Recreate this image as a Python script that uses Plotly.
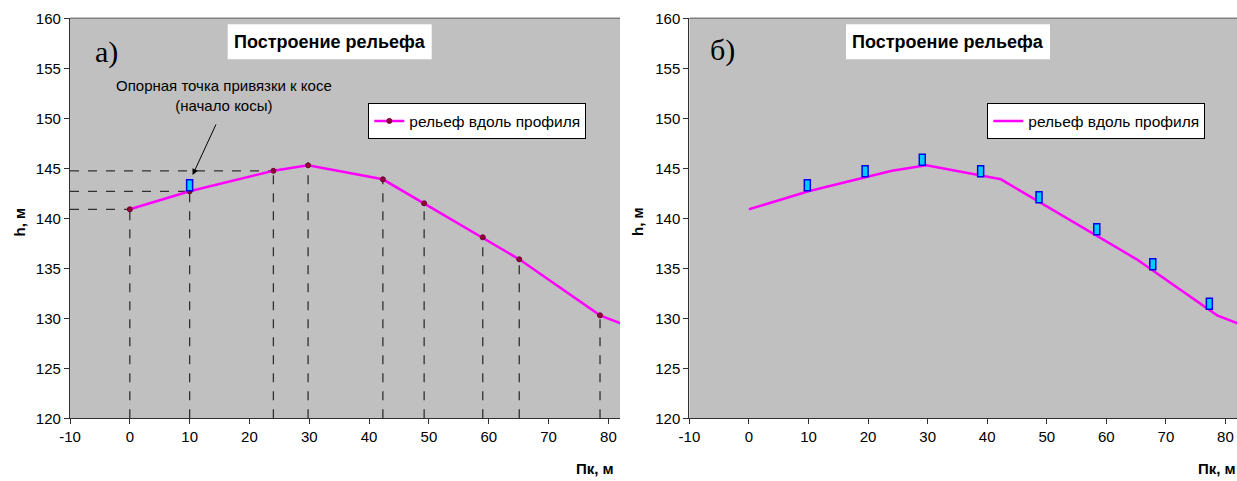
import plotly.graph_objects as go

# ---------------- data ----------------
pk = [0, 10, 24, 29.8, 42.3, 49.2, 59, 65.1, 78.6, 95]          # пикет, м
h = [140.9, 142.7, 144.75, 145.3, 143.9, 141.5, 138.1, 135.9, 130.3, 126.5]  # отметка, м

guide_v_idx = [0, 1, 2, 3, 4, 5, 6, 7, 8]   # vertical dashed guides (a)
guide_h_idx = [0, 1, 2]                      # horizontal dashed guides (a)

peg_a_pk = [10]
peg_a_h = [143.3]

peg_b_pk = [9.8, 19.5, 29.1, 38.9, 48.7, 58.4, 67.8, 77.3]
peg_b_h = [143.3, 144.7, 145.85, 144.7, 142.1, 138.9, 135.4, 131.45]

x_ticks = [-10, 0, 10, 20, 30, 40, 50, 60, 70, 80]
x_tick_labels = ["-10", "0", "10", "20", "30", "40", "50", "60", "70", "80"]
y_ticks = [120, 125, 130, 135, 140, 145, 150, 155, 160]

TITLE = "Построение рельефа"
SERIES = "рельеф вдоль профиля"
NOTE = "Опорная точка привязки к косе<br>(начало косы)"

# ---------------- styling ----------------
W, H = 1237, 481
FONT = "Liberation Sans, Arial, sans-serif"
BG = "#c0c0c0"
MAG = "#ff00ff"
AX = "#303030"

def px_x(p):
    return p / W

def px_y(p):
    return (H - p) / H

X_MIN, X_MAX = -10, 81.94
Y_MIN, Y_MAX = 120, 160

fig = go.Figure()

# dashed guides for panel a
vx, vy = [], []
for i in guide_v_idx:
    vx += [pk[i], pk[i], None]
    vy += [Y_MIN, h[i], None]
hx, hy = [], []
for i in guide_h_idx:
    hx += [X_MIN, pk[i], None]
    hy += [h[i], h[i], None]
fig.add_trace(go.Scatter(x=vx, y=vy, mode="lines", xaxis="x", yaxis="y",
                         line=dict(color="#303030", width=1.3, dash="dash"),
                         showlegend=False, hoverinfo="skip"))
fig.add_trace(go.Scatter(x=hx, y=hy, mode="lines", xaxis="x", yaxis="y",
                         line=dict(color="#303030", width=1.3, dash="dash"),
                         showlegend=False, hoverinfo="skip"))

# profile, panel a
fig.add_trace(go.Scatter(x=pk, y=h, mode="lines+markers", name=SERIES,
                         xaxis="x", yaxis="y", legend="legend",
                         line=dict(color=MAG, width=2.5),
                         marker=dict(size=5, color="#990033",
                                     line=dict(color="#660033", width=1)),
                         cliponaxis=True))
# profile, panel b
fig.add_trace(go.Scatter(x=pk, y=h, mode="lines", name=SERIES,
                         xaxis="x2", yaxis="y2", legend="legend2",
                         line=dict(color=MAG, width=2.5)))

shapes = []
# pegs as small pixel-sized rectangles anchored at data points
def peg(xr, yr, xv, yv):
    return dict(type="rect", xref=xr, yref=yr,
                xsizemode="pixel", xanchor=xv, x0=-3, x1=3,
                ysizemode="pixel", yanchor=yv, y0=-5.5, y1=5.5,
                fillcolor="#00ccff", line=dict(color="#0000ee", width=1.5),
                layer="above")

for xv, yv in zip(peg_a_pk, peg_a_h):
    shapes.append(peg("x", "y", xv, yv))
for xv, yv in zip(peg_b_pk, peg_b_h):
    shapes.append(peg("x2", "y2", xv, yv))

# top border of plot areas
for xr, yr in (("x domain", "y domain"), ("x2 domain", "y2 domain")):
    shapes.append(dict(type="line", xref=xr, yref=yr, x0=0, x1=1, y0=1, y1=1,
                       line=dict(color="#808080", width=1.5), layer="above"))

# white boxes behind chart titles
for cx in (329.7, 948.0):
    shapes.append(dict(type="rect", xref="paper", yref="paper",
                       x0=px_x(cx - 102), x1=px_x(cx + 102),
                       y0=px_y(59.3), y1=px_y(24.3),
                       fillcolor="white", line=dict(width=0), layer="below"))

annotations = []
for cx in (329.7, 948.0):
    annotations.append(dict(text="<b>" + TITLE + "</b>", xref="paper", yref="paper",
                            x=px_x(cx), y=px_y(41.8), showarrow=False,
                            xanchor="center", yanchor="middle",
                            font=dict(family=FONT, size=18, color="black")))
# panel letters
annotations.append(dict(text="а)", xref="paper", yref="paper", x=px_x(106), y=px_y(52),
                        showarrow=False, xanchor="center", yanchor="middle",
                        font=dict(family="Liberation Serif, Times New Roman, serif", size=30, color="black")))
annotations.append(dict(text="б)", xref="paper", yref="paper", x=px_x(722), y=px_y(50),
                        showarrow=False, xanchor="center", yanchor="middle",
                        font=dict(family="Liberation Serif, Times New Roman, serif", size=30, color="black")))
# note text + arrow
annotations.append(dict(text=NOTE, xref="paper", yref="paper", x=px_x(223.8), y=px_y(95.5),
                        showarrow=False, xanchor="center", yanchor="middle", align="center",
                        font=dict(family=FONT, size=15, color="black")))
annotations.append(dict(text="", xref="x", yref="y", x=10.5, y=144.33,
                        ax=24, ay=-52, axref="pixel", ayref="pixel",
                        showarrow=True, arrowhead=2, arrowsize=1.2, arrowwidth=1,
                        arrowcolor="black"))
# axis titles
for cx in (18.5, 637):
    annotations.append(dict(text="<b>h, м</b>", xref="paper", yref="paper",
                            x=px_x(cx), y=px_y(222), textangle=-90, showarrow=False,
                            xanchor="center", yanchor="middle",
                            font=dict(family=FONT, size=15, color="black")))
for cx in (594.5, 1217):
    annotations.append(dict(text="<b>Пк, м</b>", xref="paper", yref="paper",
                            x=px_x(cx), y=px_y(468), showarrow=False,
                            xanchor="center", yanchor="middle",
                            font=dict(family=FONT, size=15, color="black")))

xa = dict(range=[X_MIN, X_MAX], tickvals=x_ticks, ticktext=x_tick_labels,
          ticks="outside", ticklen=5,
          tickcolor=AX, showline=True, linecolor=AX, linewidth=1.2,
          showgrid=False, zeroline=False, automargin=False,
          tickfont=dict(family=FONT, size=15, color="black"))
ya = dict(range=[Y_MIN, Y_MAX], tickvals=y_ticks, ticks="outside", ticklen=5,
          tickcolor=AX, showline=True, linecolor=AX, linewidth=1.2,
          showgrid=False, zeroline=False, automargin=False,
          tickfont=dict(family=FONT, size=15, color="black"))

dom_y = [px_y(418.3), px_y(18.3)]

leg = dict(bgcolor="white", bordercolor="black", borderwidth=1,
           font=dict(family=FONT, size=15.5, color="black"),
           xanchor="left", yanchor="top", yref="paper", xref="paper")

fig.update_layout(
    width=W, height=H,
    margin=dict(l=0, r=0, t=0, b=0, autoexpand=False),
    paper_bgcolor="white", plot_bgcolor=BG,
    font=dict(family=FONT, size=15, color="black"),
    xaxis=dict(xa, domain=[px_x(70), px_x(620)], anchor="y"),
    yaxis=dict(ya, domain=dom_y, anchor="x"),
    xaxis2=dict(xa, domain=[px_x(689.4), 1.0], anchor="y2"),
    yaxis2=dict(ya, domain=dom_y, anchor="x2"),
    legend=dict(leg, x=px_x(368.3), y=px_y(103.3)),
    legend2=dict(leg, x=px_x(987.3), y=px_y(103.3)),
    shapes=shapes,
    annotations=annotations,
)

fig.write_html(
    "out.html",
    config={"displayModeBar": False},
    post_script="document.body.style.margin='0';document.body.style.padding='0';"
                "document.documentElement.style.overflow='hidden';",
)
